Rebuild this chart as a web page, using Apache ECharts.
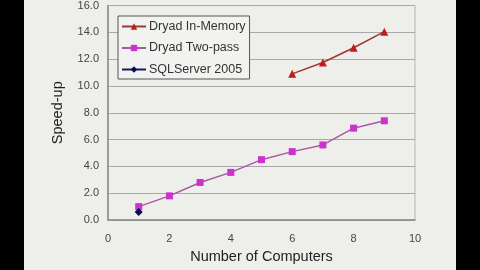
<!DOCTYPE html>
<html><head><meta charset="utf-8">
<script src="https://cdn.jsdelivr.net/npm/echarts@6/dist/echarts.min.js"></script>
<style>
html,body{margin:0;padding:0;background:#000;}
#wrap{position:relative;width:480px;height:270px;background:#000;overflow:hidden;}
#chart{position:absolute;left:24px;top:0;width:432px;height:270px;background:#eeeeeb;}
</style></head>
<body><div id="wrap"><div id="chart"></div></div>
<script>
const seriesNames = ['Dryad In-Memory', 'Dryad Two-pass', 'SQLServer 2005'];
const inMemoryX = [6, 7, 8, 9];
const inMemoryY = [10.9, 11.75, 12.85, 14.05];
const twoPassX = [1, 2, 3, 4, 5, 6, 7, 8, 9];
const twoPassY = [1.0, 1.8, 2.8, 3.55, 4.5, 5.1, 5.6, 6.85, 7.4];
const sqlX = [1];
const sqlY = [0.6];
const xTicks = [0, 2, 4, 6, 8, 10];
const yTicks = [0, 2, 4, 6, 8, 10, 12, 14, 16];

const pair = (xs, ys) => xs.map((x, i) => [x, ys[i]]);
const chart = echarts.init(document.getElementById('chart'), null, {renderer: 'canvas'});
const font = 'Liberation Sans, Arial, sans-serif';
chart.setOption({
  animation: false,
  backgroundColor: '#eeeeeb',
  textStyle: {fontFamily: font},
  grid: {left: 84, right: 41, top: 5.5, bottom: 50, show: true, borderColor: '#b4b4b4', borderWidth: 1, backgroundColor: 'transparent'},
  legend: {
    orient: 'vertical', left: 94, top: 16, width: 130,
    padding: [4, 4, 3, 3], itemGap: 8.5,
    itemWidth: 24, itemHeight: 8,
    borderColor: '#555', borderWidth: 1, backgroundColor: '#f2f2f0',
    textStyle: {fontFamily: font, fontSize: 12.5, color: '#333', padding: [0, 0, 0, -2]},
    data: seriesNames
  },
  xAxis: {
    type: 'value', min: xTicks[0], max: xTicks[xTicks.length - 1], interval: 2,
    name: 'Number of Computers', nameLocation: 'middle', nameGap: 29,
    nameTextStyle: {fontSize: 14.5, color: '#222', fontFamily: font},
    axisLine: {show: true, lineStyle: {color: '#8a8a8a', width: 1.5}},
    axisTick: {show: false},
    axisLabel: {fontSize: 11, color: '#444', margin: 13},
    splitLine: {show: false}
  },
  yAxis: {
    type: 'value', min: yTicks[0], max: yTicks[yTicks.length - 1], interval: 2,
    name: 'Speed-up', nameLocation: 'middle', nameGap: 43, nameRotate: 90,
    nameTextStyle: {fontSize: 14.5, color: '#222', fontFamily: font},
    axisLine: {show: true, lineStyle: {color: '#8a8a8a', width: 1.5}},
    axisTick: {show: false},
    axisLabel: {fontSize: 11, color: '#444', margin: 9, formatter: v => v.toFixed(1)},
    splitLine: {show: true, lineStyle: {color: '#a8a8a8', width: 1}}
  },
  series: [
    {name: seriesNames[0], type: 'line', data: pair(inMemoryX, inMemoryY),
     symbol: 'triangle', symbolSize: 8,
     lineStyle: {color: '#9a3a32', width: 1.5}, itemStyle: {color: '#c41a1a'}},
    {name: seriesNames[1], type: 'line', data: pair(twoPassX, twoPassY),
     symbol: 'rect', symbolSize: 7,
     lineStyle: {color: '#a85aa8', width: 1.5}, itemStyle: {color: '#cc33cc'}},
    {name: seriesNames[2], type: 'line', data: pair(sqlX, sqlY),
     symbol: 'diamond', symbolSize: 8,
     lineStyle: {color: '#1a1a5a', width: 1.5}, itemStyle: {color: '#0a0a50'}}
  ]
});
</script></body></html>
